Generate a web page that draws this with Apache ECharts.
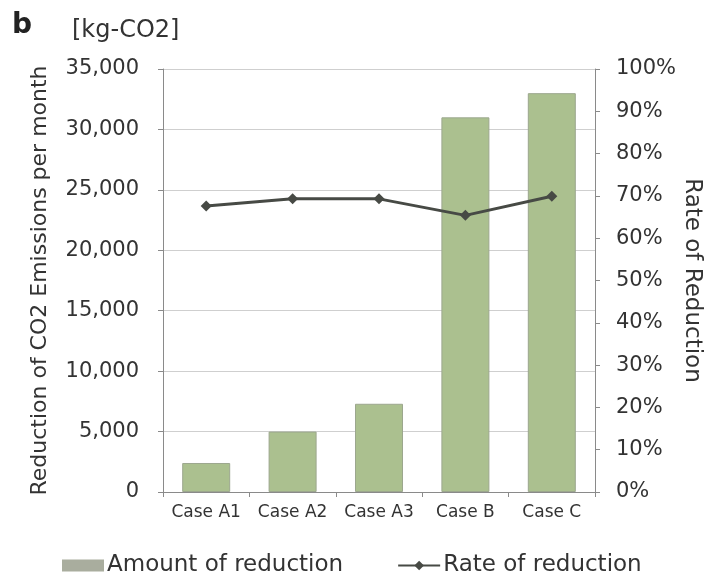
<!DOCTYPE html>
<html>
<head>
<meta charset="utf-8">
<script src="https://cdn.jsdelivr.net/npm/echarts@6/dist/echarts.min.js"></script>
<style>html,body{margin:0;padding:0;background:#fff;}#chart{width:705px;height:576px;}</style>
</head>
<body>
<div id="chart"></div>
<script>
var categories = ['Case A1', 'Case A2', 'Case A3', 'Case B', 'Case C'];
var amountOfReduction = [2400, 5000, 7300, 31000, 33000];
var rateOfReduction = [0.676, 0.693, 0.693, 0.654, 0.699];
var leftTicks = [0, 5000, 10000, 15000, 20000, 25000, 30000, 35000];
var rightTicks = [0, 0.1, 0.2, 0.3, 0.4, 0.5, 0.6, 0.7, 0.8, 0.9, 1.0];

var FONT = '"DejaVu Sans", sans-serif';
var chart = echarts.init(document.getElementById('chart'), null, {renderer: 'canvas'});
chart.setOption({
  animation: false,
  backgroundColor: '#ffffff',
  textStyle: {fontFamily: FONT, color: '#333'},
  graphic: [
    {type: 'text', left: 12, top: 12, style: {text: 'b', font: 'bold 28px ' + FONT, fill: '#222'}},
    {type: 'text', left: 72, top: 19, style: {text: '[kg-CO2]', font: '24px ' + FONT, fill: '#333'}}
  ],
  grid: {left: 163, right: 110, top: 69, bottom: 84, containLabel: false, outerBoundsMode: 'none'},
  legend: {
    left: 57, top: 549,
    itemWidth: 42, itemHeight: 12, itemGap: 54,
    textStyle: {fontSize: 23, fontFamily: FONT, color: '#333', padding: [0, 0, 0, -2]},
    data: [
      {name: 'Amount of reduction', icon: 'rect', itemStyle: {color: '#a9ad9e', borderWidth: 0}},
      {name: 'Rate of reduction'}
    ]
  },
  xAxis: {
    type: 'category',
    data: categories,
    axisLine: {lineStyle: {color: '#8a8a8a', width: 1}},
    axisTick: {show: true, length: 5, lineStyle: {color: '#8a8a8a'}},
    axisLabel: {fontSize: 17, color: '#333', margin: 12, fontFamily: FONT, interval: 0, hideOverlap: false}
  },
  yAxis: [
    {
      type: 'value', min: 0, max: 35000, interval: 5000,
      name: 'Reduction of CO2 Emissions per month',
      nameLocation: 'middle', nameGap: 112, nameRotate: 90, nameMoveOverlap: false,
      nameTextStyle: {fontSize: 22, color: '#333', fontFamily: FONT},
      axisLine: {show: true, lineStyle: {color: '#8a8a8a'}},
      axisTick: {show: true, length: 5, lineStyle: {color: '#8a8a8a'}},
      axisLabel: {fontSize: 21, color: '#333', margin: 24, fontFamily: FONT,
        formatter: function (v) { return leftTicks.indexOf(v) >= 0 ? v.toLocaleString('en-US') : ''; }},
      splitLine: {show: true, lineStyle: {color: '#cfcfcf', width: 1}}
    },
    {
      type: 'value', min: 0, max: 1, interval: 0.1,
      name: 'Rate of Reduction',
      nameLocation: 'middle', nameGap: 97, nameRotate: -90, nameMoveOverlap: false,
      nameTextStyle: {fontSize: 23, color: '#333', fontFamily: FONT, align: 'center', verticalAlign: 'middle'},
      axisLine: {show: true, lineStyle: {color: '#8a8a8a'}},
      axisTick: {show: true, length: 5, lineStyle: {color: '#8a8a8a'}},
      axisLabel: {fontSize: 21, color: '#333', margin: 21, fontFamily: FONT,
        formatter: function (v) { return Math.round(v * 100) + '%'; }},
      splitLine: {show: false}
    }
  ],
  series: [
    {
      name: 'Amount of reduction', type: 'bar', yAxisIndex: 0,
      data: amountOfReduction, barWidth: 48,
      itemStyle: {color: '#abc08f', borderColor: '#9ca78e', borderWidth: 1}
    },
    {
      name: 'Rate of reduction', type: 'line', yAxisIndex: 1,
      data: rateOfReduction,
      symbol: 'diamond', symbolSize: 11,
      lineStyle: {color: '#474a45', width: 3},
      itemStyle: {color: '#474a45'}
    }
  ]
});
</script>
</body>
</html>
